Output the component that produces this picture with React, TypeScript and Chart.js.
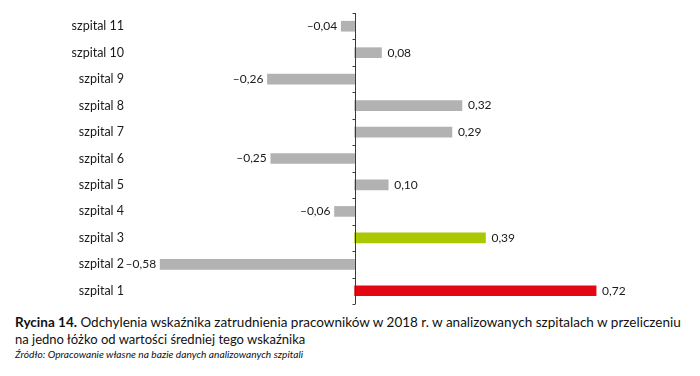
import React, { useEffect, useRef } from "react";
import { Chart, registerables } from "chart.js";

Chart.register(...registerables);

const categories = [
  "szpital 11",
  "szpital 10",
  "szpital 9",
  "szpital 8",
  "szpital 7",
  "szpital 6",
  "szpital 5",
  "szpital 4",
  "szpital 3",
  "szpital 2",
  "szpital 1",
];
const values = [-0.04, 0.08, -0.26, 0.32, 0.29, -0.25, 0.1, -0.06, 0.39, -0.58, 0.72];
const barColors = [
  "#b2b2b2",
  "#b2b2b2",
  "#b2b2b2",
  "#b2b2b2",
  "#b2b2b2",
  "#b2b2b2",
  "#b2b2b2",
  "#b2b2b2",
  "#aac700",
  "#b2b2b2",
  "#e30613",
];

const FONT = "Lato, 'Open Sans', sans-serif";

const fmt = (v: number) => (v < 0 ? "\u2013" : "") + Math.abs(v).toFixed(2).replace(".", ",");

const valueLabels = {
  id: "valueLabels",
  afterDatasetsDraw(chart: any) {
    const ctx = chart.ctx;
    const meta = chart.getDatasetMeta(0);
    ctx.save();
    ctx.font = `12px ${FONT}`;
    ctx.fillStyle = "#1a1a1a";
    ctx.textBaseline = "middle";
    meta.data.forEach((el: any, i: number) => {
      const v = values[i];
      if (v < 0) {
        ctx.textAlign = "right";
        ctx.fillText(fmt(v), el.x - 4, el.y);
      } else {
        ctx.textAlign = "left";
        ctx.fillText(fmt(v), el.x + 6, el.y);
      }
    });
    ctx.restore();
  },
};

const zeroAxis = {
  id: "zeroAxis",
  afterDatasetsDraw(chart: any) {
    const ctx = chart.ctx;
    const { top, bottom } = chart.chartArea;
    const x0 = Math.round(chart.scales.x.getPixelForValue(0)) + 0.5;
    const n = categories.length;
    const step = (bottom - top) / n;
    ctx.save();
    ctx.strokeStyle = "#3a3a3a";
    ctx.lineWidth = 1;
    ctx.beginPath();
    ctx.moveTo(x0, top);
    ctx.lineTo(x0, bottom);
    for (let i = 0; i <= n; i++) {
      const y = Math.round(top + i * step) + 0.5;
      ctx.moveTo(x0 - 3, y);
      ctx.lineTo(x0, y);
    }
    ctx.stroke();
    ctx.restore();
  },
};

export default function App() {
  const ref = useRef<HTMLCanvasElement>(null);
  useEffect(() => {
    if (!ref.current) return;
    const chart = new Chart(ref.current, {
      type: "bar",
      data: {
        labels: categories,
        datasets: [
          {
            data: values,
            backgroundColor: barColors,
            borderWidth: 0,
            barThickness: 10,
          },
        ],
      },
      options: {
        indexAxis: "y",
        animation: false,
        responsive: true,
        maintainAspectRatio: false,
        layout: { padding: { top: 5, bottom: 4, left: 0, right: 2 } },
        plugins: { legend: { display: false }, tooltip: { enabled: false } },
        scales: {
          x: { display: false, min: -0.64, max: 1.0 },
          y: {
            grid: { display: false, drawTicks: false },
            border: { display: false },
            ticks: { color: "#1a1a1a", font: { family: FONT, size: 12.5 }, padding: 16 },
            afterFit: (scale: any) => {
              scale.width = 132;
              scale.paddingTop = 0;
              scale.paddingBottom = 0;
            },
          },
        },
      },
      plugins: [valueLabels, zeroAxis],
    });
    return () => chart.destroy();
  }, []);

  const line = (s: number): React.CSSProperties => ({
    fontSize: 14,
    lineHeight: "17px",
    whiteSpace: "nowrap",
    transform: `scaleX(${s})`,
    transformOrigin: "left center",
  });

  return (
    <div style={{ width: 684, fontFamily: FONT, color: "#111" }}>
      <div style={{ position: "relative", width: 684, height: 300 }}>
        <canvas ref={ref} />
      </div>
      <div style={{ paddingLeft: 7, marginTop: 5 }}>
        <div style={line(0.965)}>
          <b>Rycina 14.</b> Odchylenia wskaźnika zatrudnienia pracowników w 2018 r. w analizowanych szpitalach w przeliczeniu
        </div>
        <div style={line(0.93)}>na jedno łóżko od wartości średniej tego wskaźnika</div>
        <div style={{ fontSize: 10.2, lineHeight: "15px", fontStyle: "italic", whiteSpace: "nowrap" }}>
          Źródło: Opracowanie własne na bazie danych analizowanych szpitali
        </div>
      </div>
    </div>
  );
}
